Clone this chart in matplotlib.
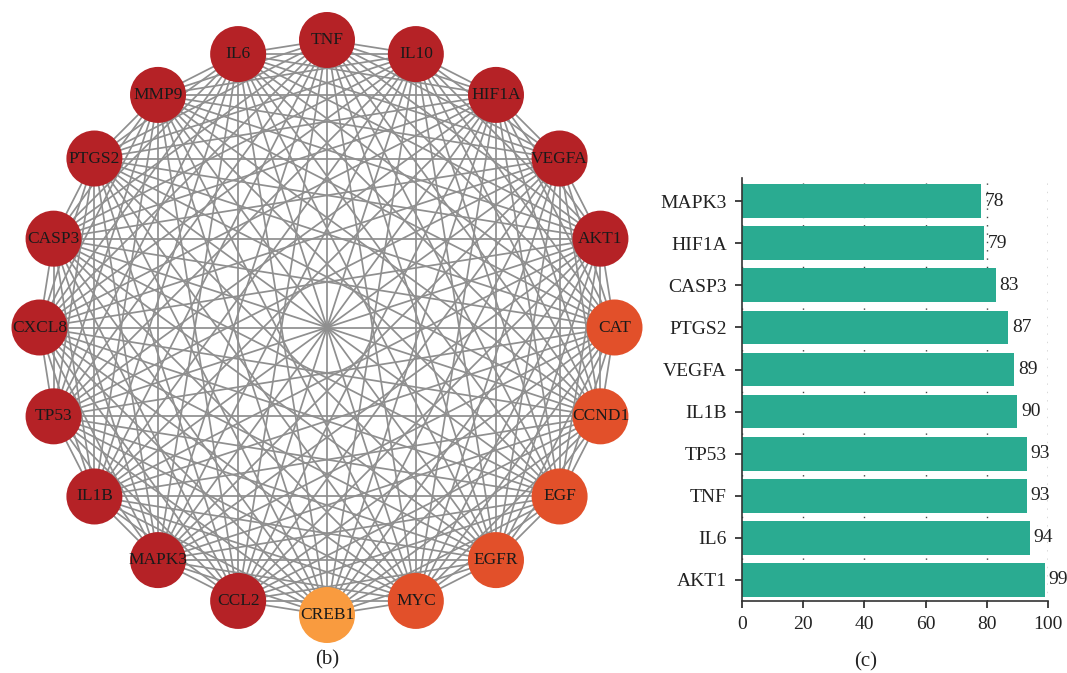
import numpy as np
import matplotlib
matplotlib.use("Agg")
import matplotlib.pyplot as plt
from matplotlib.patches import Circle

plt.rcParams['font.family'] = ['Liberation Serif', 'DejaVu Serif']

# network nodes, clockwise from top
nodes = ['TNF', 'IL10', 'HIF1A', 'VEGFA', 'AKT1', 'CAT', 'CCND1', 'EGF', 'EGFR', 'MYC',
         'CREB1', 'CCL2', 'MAPK3', 'IL1B', 'TP53', 'CXCL8', 'CASP3', 'PTGS2', 'MMP9', 'IL6']
node_colors = ['#b52226'] * 5 + ['#e2502a'] * 5 + ['#f99b3f'] + ['#b52226'] * 9

# bar chart data
genes = ['AKT1', 'IL6', 'TNF', 'TP53', 'IL1B', 'VEGFA', 'PTGS2', 'CASP3', 'HIF1A', 'MAPK3']
degree = [99, 94, 93, 93, 90, 89, 87, 83, 79, 78]

W, H = 1067, 673
fig = plt.figure(figsize=(W / 100, H / 100), dpi=100)

# ---- (b) network ----
ax = fig.add_axes([0, 0, 660 / W, 1])
ax.set_xlim(0, 660)
ax.set_ylim(H, 0)
ax.axis('off')

cx, cy, R, r = 327, 327.5, 287.5, 28
n = len(nodes)
ang = np.pi / 2 - 2 * np.pi * np.arange(n) / n
xs = cx + R * np.cos(ang)
ys = cy - R * np.sin(ang)

for i in range(n):
    for j in range(i + 1, n):
        ax.plot([xs[i], xs[j]], [ys[i], ys[j]], color='#8f8f8f', lw=1.25, zorder=1)

for x, y, name, c in zip(xs, ys, nodes, node_colors):
    ax.add_patch(Circle((x, y), r, facecolor=c, edgecolor='none', zorder=2))
    ax.text(x, y, name, ha='center', va='center', fontsize=12.5, color='#1a1a1a', zorder=3)

ax.text(cx, 660, '(b)', ha='center', va='center', fontsize=15, color='#222222')

# ---- (c) bar chart ----
bx = fig.add_axes([742 / W, (H - 601) / H, (1048 - 742) / W, (601 - 178) / H])
pos = np.arange(len(genes))
bars = bx.barh(pos, degree, height=0.8, color='#2aab91', zorder=2)
for b, v in zip(bars, degree):
    bx.text(v + 1.2, b.get_y() + b.get_height() / 2, str(v), va='center', ha='left',
            fontsize=14, color='#222222', zorder=3)

bx.set_xlim(0, 100)
bx.set_ylim(-0.5, 9.55)
bx.set_yticks(pos)
bx.set_yticklabels(genes)
bx.set_xticks([0, 20, 40, 60, 80, 100])
bx.tick_params(axis='both', labelsize=14, colors='#222222', length=5, width=1.2, pad=6)
bx.grid(axis='x', linestyle=(0, (1, 5)), color='#444444', lw=1.0, zorder=0)
for s in ['top', 'right']:
    bx.spines[s].set_visible(False)
for s in ['left', 'bottom']:
    bx.spines[s].set_linewidth(1.2)
    bx.spines[s].set_color('#333333')

fig.text(866 / W, 1 - 662 / H, '(c)', ha='center', va='center', fontsize=15, color='#222222')

fig.savefig('out.png', dpi=100)
